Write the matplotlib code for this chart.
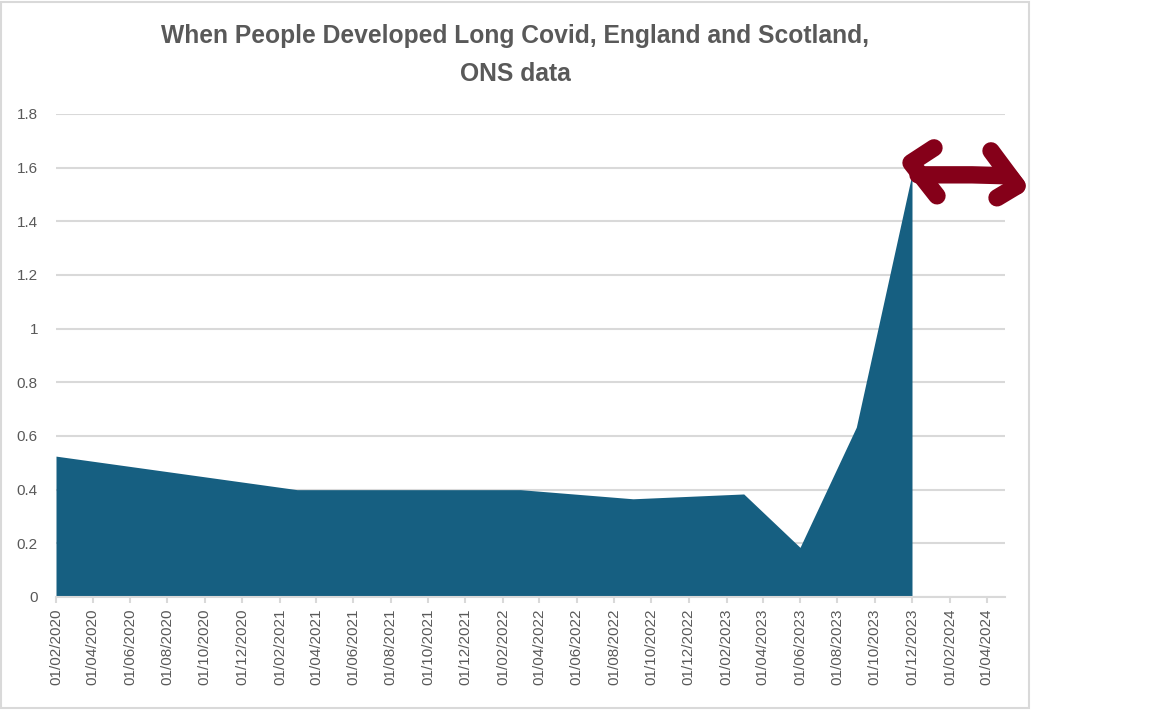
import numpy as np
import pandas as pd
import matplotlib
matplotlib.use("Agg")
import matplotlib.pyplot as plt
import matplotlib.dates as mdates
from matplotlib.patches import Rectangle

# data (%)
dates = pd.to_datetime(["2020-02-01", "2021-03-01", "2022-03-01", "2022-09-01",
                        "2023-03-01", "2023-06-01", "2023-09-01", "2023-12-01"])
values = [0.525, 0.40, 0.40, 0.366, 0.384, 0.185, 0.633, 1.577]
yticks = [0, 0.2, 0.4, 0.6, 0.8, 1.0, 1.2, 1.4, 1.6, 1.8]

grey = "#595959"
grid = "#D9D9D9"
fill = "#165F81"
arrow_col = "#850019"

plt.rcParams['font.family'] = ['Liberation Sans', 'DejaVu Sans']

fig = plt.figure(figsize=(11.52, 7.11), dpi=100)
ax = fig.add_axes([56/1152, 114/711, (1005-56)/1152, (597-114)/711])

ax.fill_between(dates, values, 0, color=fill, linewidth=0, zorder=2)

ax.set_xlim(pd.Timestamp("2020-02-01"), pd.Timestamp("2024-05-01"))
ax.set_ylim(0, 1.8)
ax.set_yticks(yticks)
ax.set_yticklabels(["%g" % t for t in yticks])
ax.yaxis.grid(True, color=grid, linewidth=1.5, zorder=0)
ax.set_axisbelow(True)

ax.xaxis.set_major_locator(mdates.MonthLocator(bymonth=[2, 4, 6, 8, 10, 12], bymonthday=1))
ax.xaxis.set_major_formatter(mdates.DateFormatter("%d/%m/%Y"))
plt.setp(ax.get_xticklabels(), rotation=90)

for s in ["top", "right", "left"]:
    ax.spines[s].set_visible(False)
ax.spines["bottom"].set_color(grid)
ax.spines["bottom"].set_linewidth(1.5)
ax.spines["bottom"].set_zorder(3)

ax.tick_params(axis="x", colors=grid, labelcolor=grey, labelsize=11,
               length=4.5, width=1.5, pad=4)
ax.tick_params(axis="y", labelcolor=grey, labelsize=11, length=0, pad=13)

# title
fig.text(515/1152, 1 - 55/711, "When People Developed Long Covid, England and Scotland,\nONS data",
         ha="center", va="center", fontsize=17.7, fontweight="bold", color=grey,
         linespacing=1.75)

# hand-drawn style double arrow next to the peak, offsets in pixels
peak = (mdates.date2num(dates[-1]), values[-1])
strokes = [
    [(22, 26), (-1, 11), (25, -22)],
    [(6, -1), (60, -1), (97, -2), (105, -12)],
    [(79, 23), (105, -12), (85, -24)],
]
disp = ax.transData.transform(peak)
for st in strokes:
    xs = np.array([p[0] for p in st], dtype=float)
    ys = np.array([p[1] for p in st], dtype=float)
    pts = np.column_stack([disp[0] + xs, disp[1] + ys])
    data_pts = ax.transData.inverted().transform(pts)
    ax.plot(data_pts[:, 0], data_pts[:, 1], color=arrow_col, linewidth=12.5,
            solid_capstyle="round", solid_joinstyle="round", clip_on=False, zorder=5)

# chart area border
fig.patches.append(Rectangle((1/1152, 3/711), 1028/1152, 706/711, transform=fig.transFigure,
                             fill=False, edgecolor=grid, linewidth=1.5))

fig.savefig("out.png", dpi=100, facecolor="white")
